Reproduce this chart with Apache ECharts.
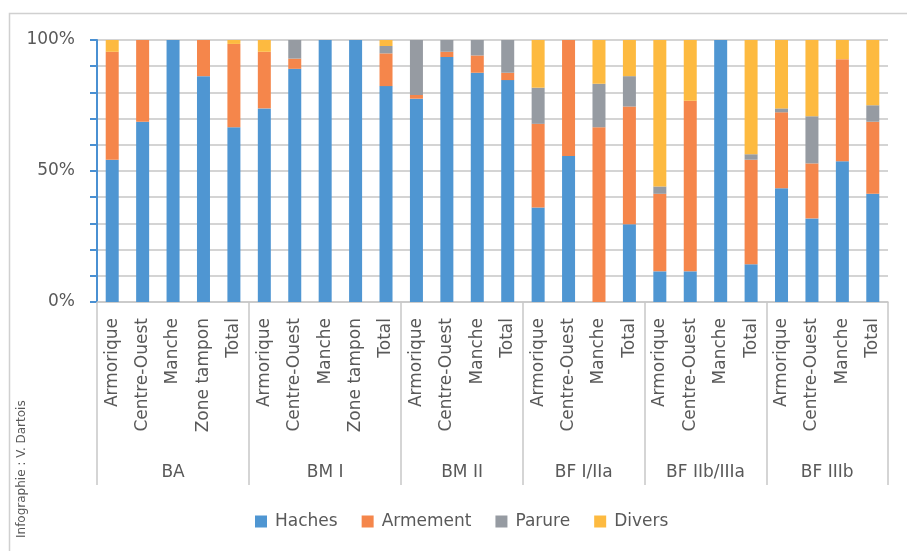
<!DOCTYPE html>
<html>
<head>
<meta charset="utf-8">
<script src="https://cdn.jsdelivr.net/npm/echarts@6/dist/echarts.min.js"></script>
<style>
  html, body { margin: 0; padding: 0; background: #fff; }
  #main { width: 907px; height: 551px; }
</style>
</head>
<body>
<div id="main"></div>
<script>
// categories (one per bar) and the periods they belong to
var categories = [
  'Armorique', 'Centre-Ouest', 'Manche', 'Zone tampon', 'Total',
  'Armorique', 'Centre-Ouest', 'Manche', 'Zone tampon', 'Total',
  'Armorique', 'Centre-Ouest', 'Manche', 'Total',
  'Armorique', 'Centre-Ouest', 'Manche', 'Total',
  'Armorique', 'Centre-Ouest', 'Manche', 'Total',
  'Armorique', 'Centre-Ouest', 'Manche', 'Total'
]
var groupNames = ['BA', 'BM I', 'BM II', 'BF I/IIa', 'BF IIb/IIIa', 'BF IIIb']
var groupSizes = [5, 5, 4, 4, 4, 4]

// shares in %
var haches   = [54.3, 68.8, 100, 86.2, 66.7, 73.9, 89.0, 100, 100, 82.4, 77.6, 93.5, 87.5, 84.7, 36.1, 55.7, 0, 29.7, 11.7, 11.7, 100, 14.4, 43.4, 31.9, 53.7, 41.3]
var armement = [41.2, 31.2, 0, 13.8, 31.8, 21.6, 3.9, 0, 0, 12.5, 1.4, 2.0, 6.6, 2.8, 31.9, 44.3, 66.7, 44.9, 29.6, 65.1, 0, 39.9, 29.0, 21.0, 39.0, 27.5]
var parure   = [0, 0, 0, 0, 0, 0, 7.1, 0, 0, 2.8, 21.0, 4.5, 5.9, 12.5, 13.8, 0, 16.6, 11.6, 2.8, 0, 0, 2.1, 1.5, 18.0, 0, 6.3]
var divers   = [4.5, 0, 0, 0, 1.5, 4.5, 0, 0, 0, 2.3, 0, 0, 0, 0, 18.2, 0, 16.7, 13.8, 55.9, 23.2, 0, 43.6, 26.1, 29.1, 7.3, 24.9]

var yTickLabels = ['0%', '50%', '100%']

// group boundaries and centres on a 0..n scale
var bounds = [0]
var centres = []
groupSizes.forEach(function (s) {
  var start = bounds[bounds.length - 1]
  centres.push(start + s / 2)
  bounds.push(start + s)
})

var textColor = '#595959'
var font = 'DejaVu Sans'

function barSeries(name, data, color) {
  return {
    name: name,
    type: 'bar',
    stack: 'total',
    barWidth: 13,
    xAxisIndex: 0,
    itemStyle: { color: color },
    data: data
  }
}

var myChart = echarts.init(document.getElementById('main'), null, { renderer: 'canvas' })
var option = {
  animation: false,
  backgroundColor: '#fff',
  textStyle: { fontFamily: font },
  graphic: [
    {
      type: 'rect',
      shape: { x: 9.5, y: 13.5, width: 920, height: 560 },
      style: { fill: 'none', stroke: '#d0d0d0', lineWidth: 1.5 },
      silent: true
    },
    {
      type: 'text',
      x: 22,
      y: 538,
      rotation: Math.PI / 2,
      silent: true,
      style: {
        text: 'Infographie : V. Dartois',
        fill: textColor,
        font: '12px "DejaVu Sans"',
        align: 'left',
        verticalAlign: 'middle'
      }
    }
  ],
  grid: {
    left: 97,
    right: 19,
    top: 40,
    bottom: 249
  },
  legend: {
    data: ['Haches', 'Armement', 'Parure', 'Divers'],
    left: 250,
    top: 508,
    icon: 'rect',
    itemWidth: 12,
    itemHeight: 12,
    itemGap: 24,
    textStyle: { color: textColor, fontSize: 17, fontFamily: font, padding: [0, 0, 0, 3] }
  },
  xAxis: [
    {
      type: 'category',
      data: categories,
      axisLine: { show: true, lineStyle: { color: '#c8c8c8', width: 1.5 } },
      axisTick: { show: false },
      axisLabel: {
        rotate: 90,
        interval: 0,
        margin: 16,
        color: textColor,
        fontSize: 17,
        fontFamily: font
      }
    },
    {
      type: 'value',
      position: 'bottom',
      min: 0,
      max: categories.length,
      axisLine: { show: false },
      splitLine: { show: false },
      axisTick: {
        show: true,
        customValues: bounds,
        length: 183,
        lineStyle: { color: '#c8c8c8', width: 1.5 }
      },
      axisLabel: {
        customValues: centres,
        margin: 162,
        color: textColor,
        fontSize: 17,
        fontFamily: font,
        formatter: function (v) {
          var i = centres.indexOf(v)
          return i >= 0 ? groupNames[i] : ''
        }
      }
    }
  ],
  yAxis: {
    type: 'value',
    min: 0,
    max: 100,
    interval: 10,
    axisLine: { show: true, lineStyle: { color: '#4a90d2', width: 2 } },
    axisTick: { show: true, length: 7, lineStyle: { color: '#4a90d2', width: 2 } },
    splitLine: { show: true, lineStyle: { color: '#d4d4d4', width: 2 } },
    axisLabel: {
      margin: 22,
      color: textColor,
      fontSize: 17,
      fontFamily: font,
      formatter: function (v) {
        return v % 50 === 0 ? yTickLabels[v / 50] : ''
      }
    }
  },
  series: [
    barSeries('Haches', haches, '#4f96d2'),
    barSeries('Armement', armement, '#f5864b'),
    barSeries('Parure', parure, '#969ba2'),
    barSeries('Divers', divers, '#fdba40')
  ]
}
myChart.setOption(option)
</script>
</body>
</html>
